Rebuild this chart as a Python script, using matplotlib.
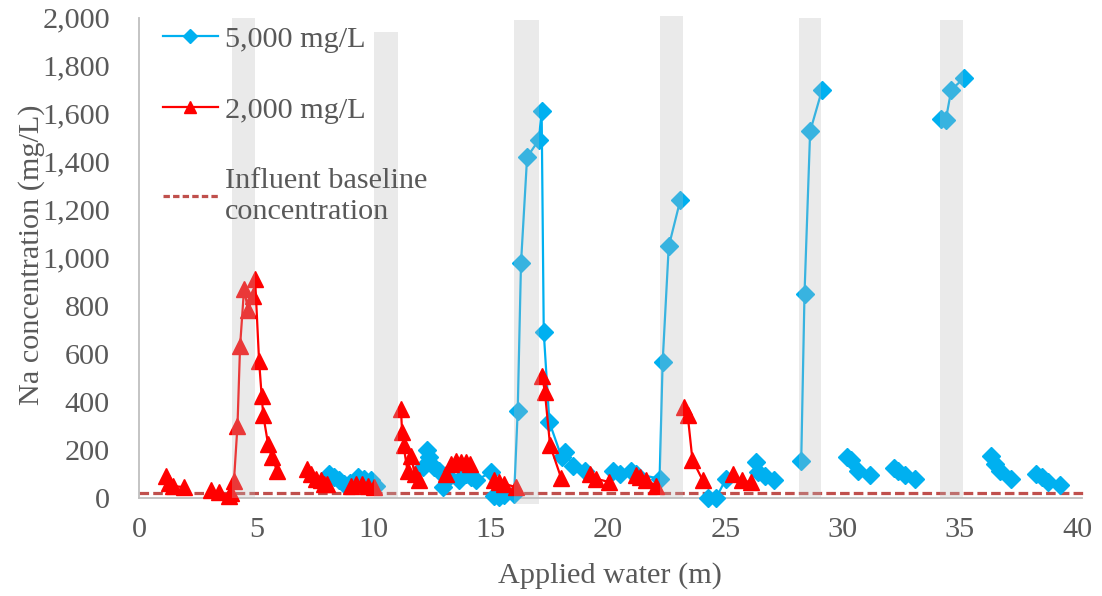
import numpy as np
import matplotlib
matplotlib.use("Agg")
import matplotlib.pyplot as plt
from matplotlib.lines import Line2D

nan = np.nan

# 5,000 mg/L series (NaN separates unconnected groups)
blue_x = [8.1, 8.32, 8.54, 8.75, 9.0, 9.32, 9.6, 9.9, 10.1, nan,
          12.09, 12.3, 12.38, 12.6, 12.8, 12.96, 13.23, 13.66, 13.94, 14.16, 14.37, 15.0, 15.15, 15.36, 15.55,
          16.0, 16.15, 16.29, 16.55, 17.05, 17.17, 17.26, 17.5, 18.02, 18.15, 18.5, 19.0, nan,
          20.2, 20.5, 21.0, 21.2, 22.2, 22.33, 22.59, 23.08, nan,
          24.26, 24.6, 25.03, nan,
          26.3, 26.4, 26.7, 27.1, nan,
          28.24, 28.38, 28.62, 29.13, nan,
          30.2, 30.35, 30.66, 31.16, nan,
          32.2, 32.35, 32.65, 33.1, nan,
          34.2, 34.4, 34.64, 35.2, nan,
          36.35, 36.5, 36.7, 37.2, nan,
          38.26, 38.5, 38.77, 39.26]
blue_y = [99, 85, 71, 57, 60, 85, 78, 71, 50, nan,
          126, 196, 168, 126, 112, 43, 85, 71, 99, 85, 71, 105, 8, 1, 12,
          15, 362, 976, 1418, 1490, 1610, 689, 314, 168, 190, 133, 112, nan,
          112, 99, 112, 99, 78, 564, 1046, 1238, nan,
          -4, -4, 78, nan,
          150, 105, 90, 75, nan,
          154, 849, 1526, 1699, nan,
          168, 155, 110, 92, nan,
          124, 110, 92, 78, nan,
          1578, 1571, 1699, 1749, nan,
          171, 140, 110, 78, nan,
          99, 85, 64, 54]

# 2,000 mg/L series
red_x = [1.14, 1.28, 1.45, 1.92, nan,
         3.06, 3.41, 3.84, 3.91, 4.05, 4.2, 4.31, 4.48, 4.65, 4.87, 4.95, 5.12, 5.23, 5.3, 5.5, 5.66, 5.89, nan,
         7.18, 7.33, 7.54, 7.75, 7.9, 8.0, nan,
         9.03, 9.25, 9.5, 9.75, 10.0, nan,
         11.17, 11.22, 11.28, 11.45, 11.6, 11.75, 11.92, nan,
         13.08, 13.3, 13.5, 13.73, 13.94, 14.1, nan,
         15.15, 15.36, 15.58, 16.08, nan,
         17.19, 17.31, 17.53, 18.0, nan,
         19.22, 19.5, 20.06, nan,
         21.2, 21.35, 21.62, 22.05, nan,
         23.22, 23.4, 23.6, 24.04, nan,
         25.32, 25.7, 26.1]
red_y = [88, 62, 48, 43, nan,
         30, 22, 8, 20, 70, 300, 630, 870, 780, 840, 912, 570, 425, 342, 225, 168, 112, nan,
         120, 99, 78, 71, 57, 55, nan,
         50, 57, 57, 50, 43, nan,
         369, 272, 217, 110, 175, 100, 75, nan,
         99, 140, 154, 147, 147, 140, nan,
         71, 64, 57, 43, nan,
         508, 439, 217, 82, nan,
         99, 78, 64, nan,
         92, 85, 71, 50, nan,
         379, 342, 158, 71, nan,
         99, 71, 64]

# Influent baseline
baseline_x = [0, 40.4]
baseline_y = [20, 20]

# Gray shaded application periods
band_left = [3.95, 10.0, 16.0, 22.2, 28.13, 34.14]
band_right = [4.95, 11.05, 17.07, 23.2, 29.1, 35.12]
band_bottom = [0, 0, -25, 0, 0, 0]
band_top = [2000, 1940, 1990, 2005, 2000, 1988]

x_ticks = [0, 5, 10, 15, 20, 25, 30, 35, 40]
y_ticks = [0, 200, 400, 600, 800, 1000, 1200, 1400, 1600, 1800, 2000]

BLUE = "#00B0F0"
RED = "#FF0000"
BASE = "#C0504D"
TXT = "#595959"
SPINE = "#BFBFBF"
FS = 21.8

plt.rcParams["font.family"] = ["Liberation Serif", "DejaVu Serif"]

fig = plt.figure(figsize=(11.02, 5.96), dpi=100)
ax = fig.add_axes([139 / 1102, 1 - 497.5 / 596, (1077 - 139) / 1102, (497.5 - 17.5) / 596])

ax.plot(baseline_x, baseline_y, color=BASE, lw=2.3, dashes=(3, 1.3), zorder=2, clip_on=False,
        solid_capstyle="butt", dash_capstyle="butt")
ax.plot(blue_x, blue_y, color=BLUE, lw=1.6, marker="D", ms=9, mec=BLUE, mfc=BLUE, zorder=3, clip_on=False)
ax.plot(red_x, red_y, color=RED, lw=1.6, marker="^", ms=11, mec=RED, mfc=RED, zorder=4, clip_on=False)

heights = [t - b for t, b in zip(band_top, band_bottom)]
widths = [r - l for r, l in zip(band_right, band_left)]
ax.bar(band_left, heights, width=widths, bottom=band_bottom, align="edge",
       color=(188 / 255, 188 / 255, 188 / 255), alpha=0.3, zorder=6, clip_on=False, linewidth=0)

ax.set_xlim(0, 40)
ax.set_ylim(0, 2000)
ax.set_xticks(x_ticks)
ax.set_yticks(y_ticks)
ax.set_yticklabels([f"{v:,}" for v in y_ticks])
ax.tick_params(axis="both", length=0, labelsize=FS, colors=TXT)
ax.tick_params(axis="y", pad=21)
ax.tick_params(axis="x", pad=14)

for s in ["top", "right"]:
    ax.spines[s].set_visible(False)
for s in ["left", "bottom"]:
    ax.spines[s].set_color(SPINE)
    ax.spines[s].set_linewidth(1.3)
ax.spines["bottom"].set_bounds(0, 40.2)

ax.set_xlabel("Applied water (m)", fontsize=FS, color=TXT)
ax.set_ylabel("Na concentration (mg/L)", fontsize=FS, color=TXT)
ax.xaxis.set_label_coords(0.502, -0.135)
ax.yaxis.set_label_coords(-0.1, 0.505)

handles = [
    Line2D([], [], color=BLUE, lw=1.6, marker="D", ms=7),
    Line2D([], [], color=RED, lw=1.6, marker="^", ms=8.5),
    Line2D([], [], color=BASE, lw=2.3, dashes=(2, 1)),
]
labels = ["5,000 mg/L", "2,000 mg/L", "Influent baseline\nconcentration"]
leg = ax.legend(handles, labels, loc="upper left", bbox_to_anchor=(0.0128, 1.008), frameon=False,
                fontsize=FS, labelcolor=TXT, handlelength=1.8, handletextpad=0.23,
                labelspacing=1.45, borderaxespad=0)
for t in leg.get_texts():
    t.set_linespacing(1.25)
leg.set_zorder(10)

fig.savefig("out.png", dpi=100)
